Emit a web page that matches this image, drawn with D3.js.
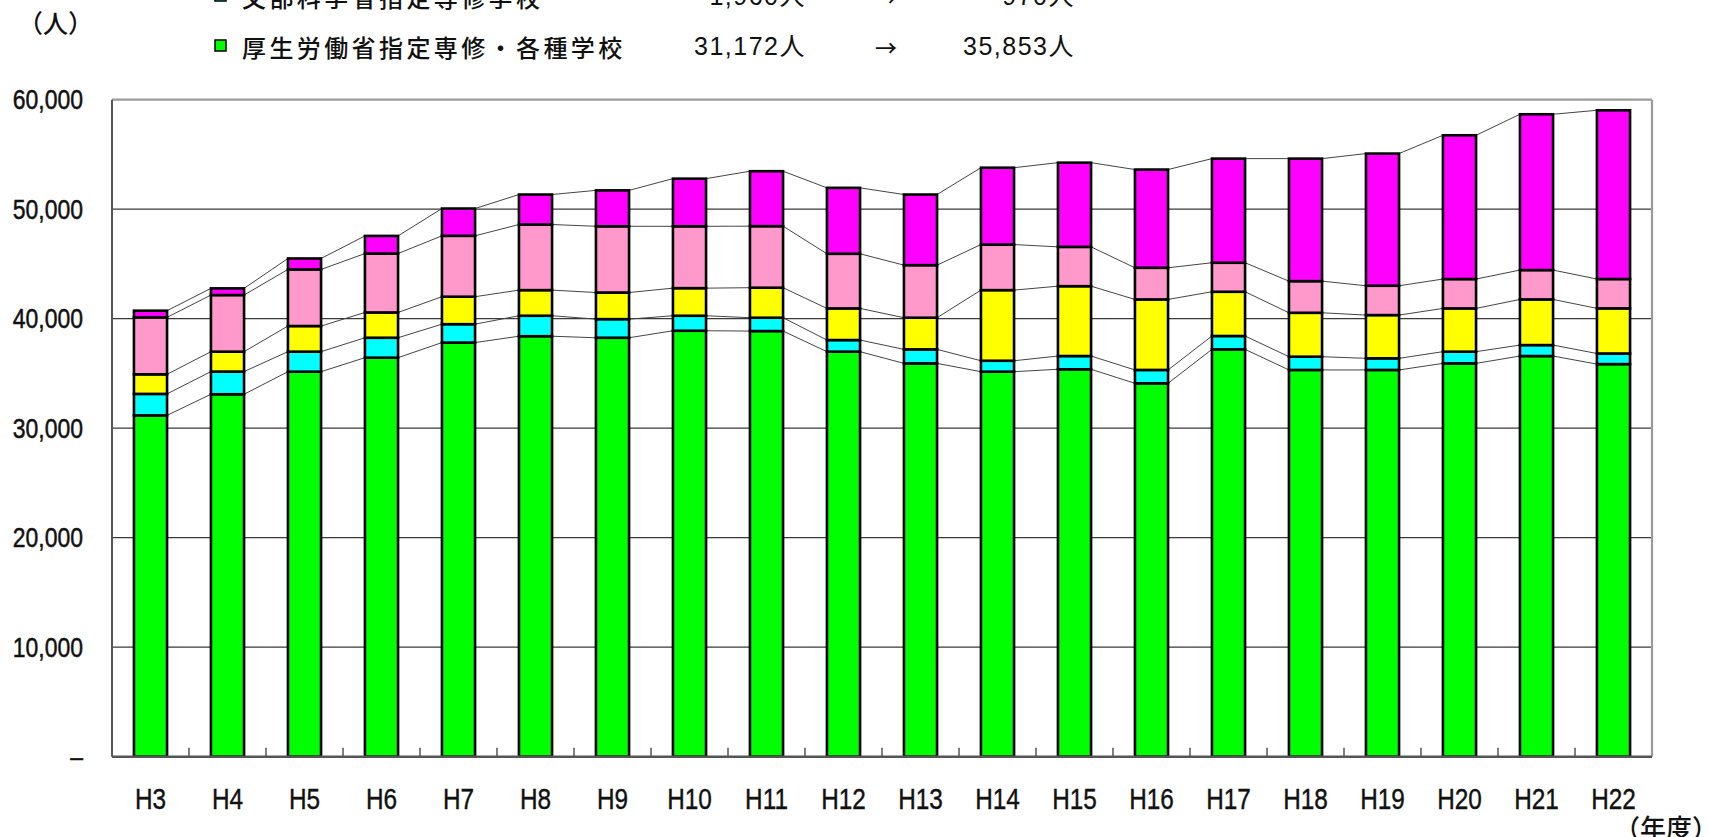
<!DOCTYPE html>
<html>
<head>
<meta charset="utf-8">
<script src="https://cdn.jsdelivr.net/npm/d3@7/dist/d3.min.js"></script>
<style>
  body { margin: 0; background: #fff; }
</style>
</head>
<body>
<div id="chart"></div>
<script>
// Data (人)
var years = ["H3", "H4", "H5", "H6", "H7", "H8", "H9", "H10", "H11", "H12",
  "H13", "H14", "H15", "H16", "H17", "H18", "H19", "H20", "H21", "H22"];
var green = [31172, 33100, 35160, 36440, 37820, 38400, 38260, 38900, 38870, 36990,
  35920, 35160, 35380, 34100, 37200, 35320, 35320, 35920, 36590, 35853];
var cyan = [1960, 2070, 1830, 1820, 1680, 1870, 1700, 1370, 1220, 1060,
  1280, 1000, 1210, 1220, 1220, 1210, 1060, 1070, 1000, 970];
var yellow = [1790, 1820, 2340, 2310, 2510, 2340, 2430, 2520, 2740, 2890,
  2890, 6450, 6380, 6440, 4040, 4010, 3950, 3950, 4170, 4120];
var pink = [5200, 5170, 5170, 5380, 5560, 5990, 6050, 5650, 5620, 4990,
  4800, 4160, 3590, 2890, 2650, 2890, 2680, 2680, 2680, 2680];
var magenta = [610, 610, 1000, 1610, 2490, 2740, 3280, 4350, 5020, 6020,
  6450, 7020, 7690, 8970, 9510, 11190, 12070, 13130, 14230, 15410];
var yTicks = [0, 10000, 20000, 30000, 40000, 50000, 60000];

// legend rows still visible at the top of the picture
var legendNames = ["文部科学省指定専修学校", "厚生労働省指定専修・各種学校"];
var legendKeys = ["cyan", "green"];

var keys = ["green", "cyan", "yellow", "pink", "magenta"];
var colors = { green: "#00ff00", cyan: "#00ffff", yellow: "#ffff00", pink: "#ff99cc", magenta: "#ff00ff" };
var seriesArrays = { green: green, cyan: cyan, yellow: yellow, pink: pink, magenta: magenta };

var table = years.map(function (yr, i) {
  return { year: yr, green: green[i], cyan: cyan[i], yellow: yellow[i], pink: pink[i], magenta: magenta[i] };
});

var W = 1709, H = 837;
var plotL = 112, plotR = 1652, plotT = 99.7, plotB = 756.7;

var svg = d3.select("#chart").append("svg")
  .attr("width", W)
  .attr("height", H)
  .style("display", "block");

svg.append("rect").attr("width", W).attr("height", H).attr("fill", "#fff");

var x = d3.scaleBand()
  .domain(years)
  .range([plotL, plotR])
  .paddingInner(0.57)
  .paddingOuter(0.285);

var y = d3.scaleLinear()
  .domain([0, 60000])
  .range([plotB, plotT]);

var numFont = "'Liberation Sans', 'Noto Sans CJK JP', sans-serif";
var jpFont = "'Noto Sans CJK JP', sans-serif";

// squeeze a text horizontally, the original font is a narrow gothic
function narrow(sel, k) {
  sel.each(function () {
    var w = this.getComputedTextLength();
    d3.select(this).attr("textLength", w * k).attr("lengthAdjust", "spacingAndGlyphs");
  });
}

// gridlines
svg.selectAll("line.grid")
  .data(yTicks.filter(function (d) { return d > 0 && d < 60000; }))
  .enter().append("line")
  .attr("class", "grid")
  .attr("x1", plotL).attr("x2", plotR)
  .attr("y1", function (d) { return y(d); })
  .attr("y2", function (d) { return y(d); })
  .attr("stroke", "#3a3a3a")
  .attr("stroke-width", 1.2);

// y axis labels
var yAxis = svg.append("g")
  .attr("transform", "translate(" + plotL + ",0)")
  .call(d3.axisLeft(y).tickValues(yTicks).tickSize(0).tickPadding(29)
    .tickFormat(function (d) { return d === 0 ? "–" : d3.format(",")(d); }));
yAxis.select(".domain").remove();
yAxis.selectAll("text")
  .style("font-family", numFont)
  .style("font-size", "28px")
  .attr("fill", "#111")
  .attr("stroke", "#111")
  .attr("stroke-width", 0.5)
  .call(narrow, 0.82);

// x axis labels
var xAxis = svg.append("g")
  .attr("transform", "translate(0," + plotB + ")")
  .call(d3.axisBottom(x).tickSize(0).tickPadding(32));
xAxis.select(".domain").remove();
xAxis.selectAll("text")
  .style("font-family", numFont)
  .style("font-size", "29px")
  .attr("fill", "#111")
  .attr("stroke", "#111")
  .attr("stroke-width", 0.4)
  .call(narrow, 0.84);

// stacked data
var stacked = d3.stack().keys(keys)(table);

// series lines between neighbouring bars
stacked.forEach(function (layer) {
  var segs = d3.pairs(layer);
  svg.append("g").selectAll("line")
    .data(segs)
    .enter().append("line")
    .attr("x1", function (p) { return x(p[0].data.year) + x.bandwidth(); })
    .attr("x2", function (p) { return x(p[1].data.year); })
    .attr("y1", function (p) { return y(p[0][1]); })
    .attr("y2", function (p) { return y(p[1][1]); })
    .attr("stroke", "#444")
    .attr("stroke-width", 1);
});

// bars
svg.append("g").selectAll("g")
  .data(stacked)
  .enter().append("g")
  .attr("fill", function (d) { return colors[d.key]; })
  .selectAll("rect")
  .data(function (d) { return d; })
  .enter().append("rect")
  .attr("x", function (d) { return x(d.data.year); })
  .attr("y", function (d) { return y(d[1]); })
  .attr("width", x.bandwidth())
  .attr("height", function (d) { return y(d[0]) - y(d[1]); })
  .attr("stroke", "#000")
  .attr("stroke-width", 2.6);

// frame
svg.append("line").attr("x1", plotL).attr("x2", plotR).attr("y1", plotT).attr("y2", plotT)
  .attr("stroke", "#9a9a9a").attr("stroke-width", 2.2);
svg.append("line").attr("x1", plotR).attr("x2", plotR).attr("y1", plotT).attr("y2", plotB)
  .attr("stroke", "#9a9a9a").attr("stroke-width", 2.2);
svg.append("line").attr("x1", plotL).attr("x2", plotL).attr("y1", plotT).attr("y2", plotB)
  .attr("stroke", "#555").attr("stroke-width", 2);
svg.append("line").attr("x1", plotL).attr("x2", plotR).attr("y1", plotB).attr("y2", plotB)
  .attr("stroke", "#555").attr("stroke-width", 2.4);

// small inward ticks between categories
svg.selectAll("line.xtick")
  .data(years.slice(1))
  .enter().append("line")
  .attr("class", "xtick")
  .attr("x1", function (d) { return x(d) - x.step() * x.paddingInner() / 2; })
  .attr("x2", function (d) { return x(d) - x.step() * x.paddingInner() / 2; })
  .attr("y1", plotB)
  .attr("y2", plotB - 9)
  .attr("stroke", "#555")
  .attr("stroke-width", 1.5);

// unit labels
svg.append("text")
  .attr("x", 18).attr("y", 22)
  .attr("dominant-baseline", "central")
  .style("font-family", jpFont)
  .style("font-size", "25px")
  .style("font-weight", 500)
  .attr("fill", "#111")
  .text("（人）");

svg.append("text")
  .attr("x", 1614).attr("y", 826)
  .attr("dominant-baseline", "central")
  .style("font-family", jpFont)
  .style("font-size", "26px")
  .style("font-weight", 500)
  .attr("fill", "#111")
  .text("（年度）");

// legend (top rows cut off by the picture edge)
var fmt = d3.format(",");
var legend = svg.append("g").selectAll("g")
  .data(legendKeys)
  .enter().append("g")
  .attr("transform", function (d, i) { return "translate(0," + (-4 + i * 50) + ")"; });

legend.append("rect")
  .attr("x", 215).attr("y", -6)
  .attr("width", 11).attr("height", 11)
  .attr("fill", function (d) { return colors[d]; })
  .attr("stroke", "#000")
  .attr("stroke-width", 1.5);

legend.append("text")
  .attr("x", 242)
  .attr("dominant-baseline", "central")
  .style("font-family", jpFont)
  .style("font-size", "24px")
  .style("font-weight", 500)
  .style("letter-spacing", "3.4px")
  .attr("fill", "#111")
  .text(function (d, i) { return legendNames[i]; });

legend.append("text")
  .attr("x", 806)
  .attr("text-anchor", "end")
  .attr("dominant-baseline", "central")
  .style("font-family", numFont)
  .style("font-size", "25px")
  .style("letter-spacing", "1.5px")
  .attr("fill", "#111")
  .text(function (d) { return fmt(seriesArrays[d][0]) + "人"; });

legend.append("text")
  .attr("x", 886)
  .attr("text-anchor", "middle")
  .attr("dominant-baseline", "central")
  .style("font-family", jpFont)
  .style("font-size", "22px")
  .style("font-weight", 500)
  .attr("fill", "#111")
  .text("→");

legend.append("text")
  .attr("x", 1075)
  .attr("text-anchor", "end")
  .attr("dominant-baseline", "central")
  .style("font-family", numFont)
  .style("font-size", "25px")
  .style("letter-spacing", "1.5px")
  .attr("fill", "#111")
  .text(function (d) { return fmt(seriesArrays[d][seriesArrays[d].length - 1]) + "人"; });
</script>
</body>
</html>
